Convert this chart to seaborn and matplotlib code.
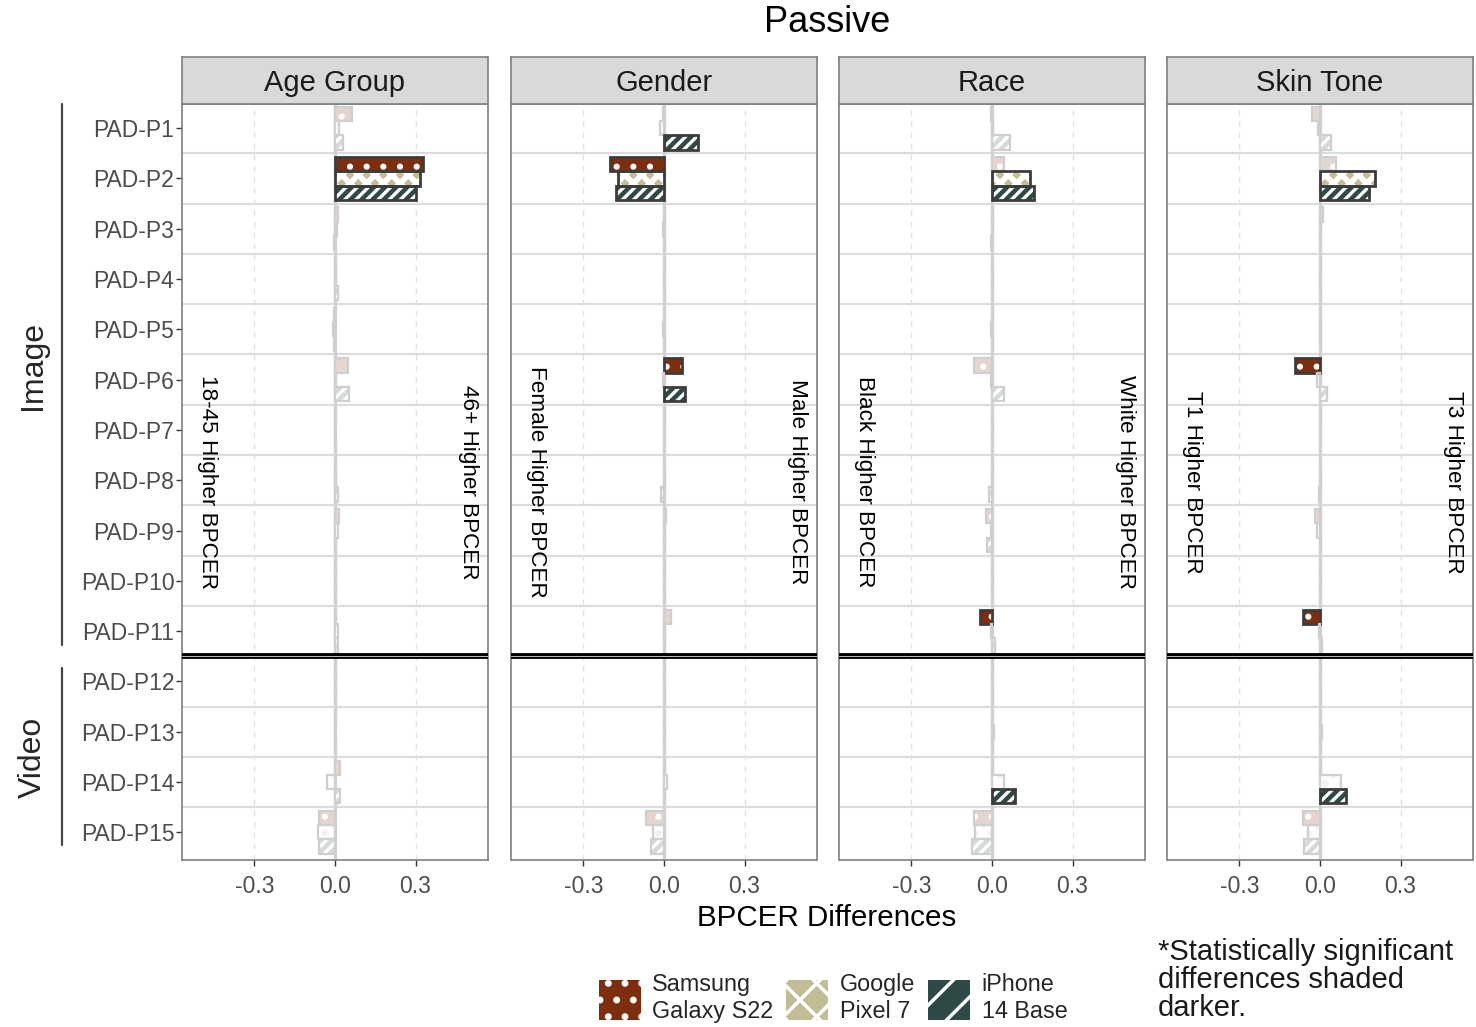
import matplotlib
matplotlib.use("Agg")
import matplotlib.pyplot as plt
from matplotlib.patches import Rectangle, Patch
from matplotlib.lines import Line2D
from matplotlib.colors import to_rgb
import pandas as pd
import seaborn as sns

# ---------------- data ----------------
pads = [f"PAD-P{i}" for i in range(1, 16)]
devices = ["Samsung Galaxy S22", "Google Pixel 7", "iPhone 14 Base"]
device_labels = ["Samsung\nGalaxy S22", "Google\nPixel 7", "iPhone\n14 Base"]
facets = ["Age Group", "Gender", "Race", "Skin Tone"]
left_notes = ["18-45 Higher BPCER", "Female Higher BPCER", "Black Higher BPCER", "T1 Higher BPCER"]
right_notes = ["46+ Higher BPCER", "Male Higher BPCER", "White Higher BPCER", "T3 Higher BPCER"]

# BPCER differences, PAD-P1 ... PAD-P15
age_samsung = [0.062, 0.328, 0.012, 0.003, -0.004, 0.050, 0.002, 0.004, 0.015, 0.003, 0.004, 0.003, 0.002, 0.017, -0.060]
age_google = [0.015, 0.316, 0.006, 0.002, -0.006, 0.003, 0.001, 0.002, 0.012, 0.002, 0.010, 0.002, 0.001, -0.029, -0.065]
age_iphone = [0.030, 0.303, -0.004, 0.012, -0.002, 0.052, 0.002, 0.012, 0.004, 0.002, 0.010, 0.003, 0.002, 0.020, -0.060]

gender_samsung = [-0.003, -0.203, 0.005, 0.002, 0.001, 0.067, 0.002, 0.001, 0.008, 0.002, 0.025, 0.002, 0.001, 0.003, -0.066]
gender_google = [-0.015, -0.172, -0.003, 0.001, -0.004, -0.003, 0.001, 0.002, 0.003, 0.001, 0.004, 0.001, 0.002, 0.012, -0.040]
gender_iphone = [0.127, -0.178, 0.003, 0.002, 0.002, 0.077, 0.001, -0.010, 0.002, 0.002, 0.003, 0.004, 0.001, 0.002, -0.050]

race_samsung = [-0.005, 0.046, 0.004, 0.001, 0.002, -0.066, 0.001, 0.002, -0.022, 0.001, -0.045, 0.002, 0.001, 0.003, -0.066]
race_google = [0.002, 0.142, 0.003, 0.002, -0.004, -0.003, 0.002, 0.001, -0.005, 0.002, -0.004, 0.001, 0.008, 0.046, -0.062]
race_iphone = [0.067, 0.158, -0.002, 0.001, 0.003, 0.046, 0.001, -0.012, -0.020, 0.001, 0.010, 0.002, 0.003, 0.087, -0.075]

skin_samsung = [-0.029, 0.058, 0.012, 0.002, 0.001, -0.093, 0.002, 0.001, -0.020, 0.001, -0.062, 0.002, 0.001, 0.003, -0.062]
skin_google = [-0.006, 0.204, 0.003, 0.001, 0.004, -0.010, 0.001, 0.002, -0.010, 0.002, -0.004, 0.001, 0.008, 0.077, -0.045]
skin_iphone = [0.040, 0.183, 0.000, 0.002, 0.002, 0.027, 0.001, -0.005, 0.002, 0.001, 0.008, 0.002, 0.003, 0.096, -0.060]

# statistically significant differences: (PAD, device)
age_significant = [("PAD-P2", "Samsung Galaxy S22"), ("PAD-P2", "Google Pixel 7"), ("PAD-P2", "iPhone 14 Base")]
gender_significant = [("PAD-P1", "iPhone 14 Base"), ("PAD-P2", "Samsung Galaxy S22"), ("PAD-P2", "Google Pixel 7"),
                      ("PAD-P2", "iPhone 14 Base"), ("PAD-P6", "Samsung Galaxy S22"), ("PAD-P6", "iPhone 14 Base")]
race_significant = [("PAD-P2", "Google Pixel 7"), ("PAD-P2", "iPhone 14 Base"),
                    ("PAD-P11", "Samsung Galaxy S22"), ("PAD-P14", "iPhone 14 Base")]
skin_significant = [("PAD-P2", "Google Pixel 7"), ("PAD-P2", "iPhone 14 Base"), ("PAD-P6", "Samsung Galaxy S22"),
                    ("PAD-P11", "Samsung Galaxy S22"), ("PAD-P14", "iPhone 14 Base")]

facet_values = [(age_samsung, age_google, age_iphone),
                (gender_samsung, gender_google, gender_iphone),
                (race_samsung, race_google, race_iphone),
                (skin_samsung, skin_google, skin_iphone)]
facet_significant = [age_significant, gender_significant, race_significant, skin_significant]

rows = []
for facet, vals in zip(facets, facet_values):
    for dev, arr in zip(devices, vals):
        for pad, v in zip(pads, arr):
            rows.append({"facet": facet, "device": dev, "pad": pad, "diff": v})
df = pd.DataFrame(rows)

# ---------------- style ----------------
sns.set_theme(style="white")
plt.rcParams["font.family"] = ["Liberation Sans", "DejaVu Sans"]
plt.rcParams["hatch.linewidth"] = 2.5

colors = ["#7D2E0E", "#C4BC94", "#2F4A46"]
bar_hatches = [".", "xx", "///"]
bar_hatch_widths = [2.0, 4.0, 2.4]
legend_hatches = [".", "x", "/"]
legend_hatch_widths = [2.0, 3.0, 4.0]
palette = dict(zip(devices, colors))
SIG_EDGE = "#3C3C3C"
PALE_EDGE = "#CFCFCF"
GRID = "#DCDCDC"
FRAME = "#7F7F7F"
TICKTXT = "#4D4D4D"


def pale(c, a=0.2):
    r, g, b = to_rgb(c)
    return (1 - a + a * r, 1 - a + a * g, 1 - a + a * b)


W, H = 1476, 1027


def fx(p):
    return p / W


def fy(p):
    return 1 - p / H


fig = plt.figure(figsize=(W / 100, H / 100), dpi=100)

panel_left = [182, 511, 839, 1167]
panel_w = 306
panel_top, panel_bottom = 104, 860
strip_top = 57

for k, facet in enumerate(facets):
    ax = fig.add_axes([fx(panel_left[k]), fy(panel_bottom), panel_w / W, (panel_bottom - panel_top) / H])
    sub = df[df["facet"] == facet]
    sig = set(facet_significant[k])

    ax.axvline(0, color="#D2D2D2", lw=2.4, zorder=1)
    sns.barplot(data=sub, x="diff", y="pad", hue="device", order=pads, hue_order=devices,
                palette=palette, orient="h", width=0.85, errorbar=None, legend=False,
                ax=ax, zorder=3)

    for cont in ax.containers:
        for bar in cont:
            x0, y0 = bar.get_x(), bar.get_y()
            w, h = bar.get_width(), bar.get_height()
            yc = y0 + h / 2
            pi = int(round(yc))
            di = int(round((yc - pi) / (0.85 / 3))) + 1
            is_sig = (pads[pi], devices[di]) in sig
            fill = colors[di] if is_sig else pale(colors[di])
            bar.set_facecolor(fill)
            bar.set_edgecolor("none")
            bar.set_linewidth(0)
            hat = Rectangle((x0, y0), w, h, facecolor="none", edgecolor="white",
                            linewidth=0, hatch=bar_hatches[di], zorder=3.1)
            if hasattr(hat, "set_hatch_linewidth"):
                hat.set_hatch_linewidth(bar_hatch_widths[di])
            ax.add_patch(hat)
            ax.add_patch(Rectangle((x0, y0), w, h, facecolor="none",
                                   edgecolor=SIG_EDGE if is_sig else PALE_EDGE,
                                   linewidth=2.0 if is_sig else 1.6, zorder=3.2))

    ax.grid(False)
    for i in range(len(pads) - 1):
        if i == 10:
            continue
        ax.axhline(i + 0.5, color=GRID, lw=1.6, zorder=0.5)
    for xv in (-0.3, 0.3):
        ax.axvline(xv, color="#E2E2E2", lw=1.0, dashes=(4, 4), zorder=0.5)
    # separator between image and video attacks
    ax.axhline(10.5, color="black", lw=4.2, zorder=4)
    ax.axhline(10.5, color="#BDBDBD", lw=0.7, zorder=4.1)

    ax.set_xlim(-0.57, 0.57)
    ax.set_ylim(14.55, -0.48)
    ax.set_xticks([-0.3, 0.0, 0.3])
    ax.set_xticklabels(["-0.3", "0.0", "0.3"])
    ax.set_xlabel("")
    ax.set_ylabel("")
    ax.tick_params(axis="x", length=4, width=1, color="#333333", labelsize=16.5,
                   labelcolor=TICKTXT, pad=6.5, bottom=True)
    if k == 0:
        ax.tick_params(axis="y", length=4, width=1, color="#333333", labelsize=16.5,
                       labelcolor=TICKTXT, pad=1.5, left=True)
    else:
        ax.tick_params(axis="y", length=0, labelleft=False)
    for sp in ax.spines.values():
        sp.set_visible(True)
        sp.set_color(FRAME)
        sp.set_linewidth(1.2)

    ax.text(0.082, 0.50, left_notes[k], transform=ax.transAxes, rotation=-90,
            ha="center", va="center", fontsize=16.2, color="black", zorder=6)
    ax.text(0.935, 0.50, right_notes[k], transform=ax.transAxes, rotation=-90,
            ha="center", va="center", fontsize=16.2, color="black", zorder=6)

    # facet strip
    sax = fig.add_axes([fx(panel_left[k]), fy(panel_top), panel_w / W, (panel_top - strip_top) / H])
    sax.set_facecolor("#D9D9D9")
    sax.set_xticks([])
    sax.set_yticks([])
    for sp in sax.spines.values():
        sp.set_visible(True)
        sp.set_color(FRAME)
        sp.set_linewidth(1.2)
    sax.text(0.5, 0.45, facet, transform=sax.transAxes, ha="center", va="center",
             fontsize=21, color="#1A1A1A")

# titles and axis label
fig.text(fx(827), fy(23), "Passive", ha="center", va="center", fontsize=26, color="black")
fig.text(fx(827), fy(918), "BPCER Differences", ha="center", va="center", fontsize=21.3, color="black")

# attack-type group labels on the left
fig.text(fx(33), fy(365), "Image", rotation=90, ha="center", va="center", fontsize=23)
fig.text(fx(33), fy(757), "Video", rotation=90, ha="center", va="center", fontsize=23)
fig.add_artist(Line2D([fx(62), fx(62)], [fy(104), fy(645)], color="#444444", lw=1.6))
fig.add_artist(Line2D([fx(62), fx(62)], [fy(668), fy(845)], color="#444444", lw=1.6))

# legend
handles = []
for c, h, hw in zip(colors, legend_hatches, legend_hatch_widths):
    p = Patch(facecolor=c, edgecolor="white", linewidth=0, hatch=h)
    if hasattr(p, "set_hatch_linewidth"):
        p.set_hatch_linewidth(hw)
    handles.append(p)
fig.legend(handles=handles, labels=device_labels, loc="center",
           bbox_to_anchor=(fx(833), fy(998)), ncol=3, frameon=False, fontsize=16.8,
           handlelength=1.8, handleheight=2.25, handletextpad=0.5, columnspacing=0.55,
           labelspacing=0.2)

fig.text(fx(1158), fy(980), "*Statistically significant\ndifferences shaded\ndarker.",
         ha="left", va="center", fontsize=21, linespacing=1.0, color="#1A1A1A")

fig.savefig("out.png", dpi=100, facecolor="white")
